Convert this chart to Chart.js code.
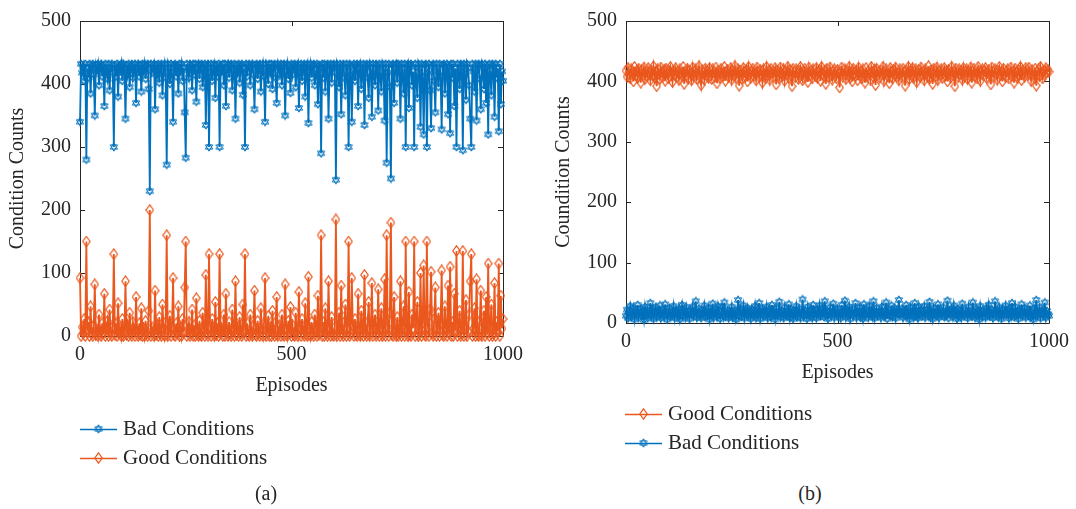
<!DOCTYPE html>
<html>
<head>
<meta charset="utf-8">
<script src="https://cdn.jsdelivr.net/npm/chart.js@4.4.1/dist/chart.umd.min.js"></script>
<style>
  body { margin: 0; width: 1076px; height: 509px; background: #fff; position: relative; overflow: hidden;
         font-family: "Liberation Serif", "DejaVu Serif", serif; color: #262626; }
  .panel { position: absolute; top: 0; }
  .legend { position: absolute; font-size: 21px; line-height: 29px; }
  .legend div { display: flex; align-items: center; height: 29px; white-space: nowrap; }
  .legend canvas { margin-right: 6px; }
  .caption { position: absolute; width: 100px; text-align: center; font-size: 20px; line-height: 24px; }
</style>
</head>
<body>
<div class="panel" style="left:0px;"><canvas id="chartA" width="530" height="400"></canvas></div>
<div class="panel" style="left:546px;"><canvas id="chartB" width="530" height="390"></canvas></div>

<div class="legend" id="legendA" style="left:80px; top:414px;"></div>
<div class="legend" id="legendB" style="left:625px; top:399px;"></div>
<div class="caption" style="left:216px; top:481px;">(a)</div>
<div class="caption" style="left:760px; top:481px;">(b)</div>

<script>
// Episoden 0..1000 in Schritten von 2.5
const episodes = Array.from({ length: 401 }, (_, i) => i * 2.5);

const xTicks = [0, 500, 1000];
const yTicks = [0, 100, 200, 300, 400, 500];

// (a) Bad Conditions
const badA = [
  340, 432, 418, 428, 405, 432, 280, 425, 410, 432, 385, 428, 432, 415, 350, 430, 422, 432, 398, 426,
  432, 412, 428, 365, 432, 420, 408, 432, 390, 425, 432, 418, 300, 430, 412, 432, 380, 428, 420, 432,
  405, 432, 425, 345, 430, 415, 432, 395, 428, 432, 410, 422, 432, 370, 426, 432, 412, 430, 388, 432,
  420, 432, 408, 428, 432, 392, 230, 432, 418, 425, 432, 360, 430, 415, 432, 402, 428, 432, 382, 420,
  432, 410, 272, 432, 425, 400, 432, 418, 340, 430, 432, 412, 428, 385, 432, 420, 432, 405, 426, 355,
  283, 432, 422, 410, 432, 428, 390, 432, 415, 432, 372, 425, 432, 408, 430, 432, 395, 420, 432, 335,
  428, 432, 300, 418, 432, 405, 425, 432, 378, 430, 412, 432, 300, 428, 420, 432, 398, 432, 365, 425,
  432, 410, 428, 432, 390, 420, 432, 345, 430, 418, 432, 402, 428, 432, 383, 425, 300, 432, 412, 430,
  432, 398, 425, 432, 415, 360, 430, 432, 408, 428, 432, 388, 420, 432, 412, 340, 432, 426, 400, 432,
  418, 432, 392, 428, 432, 410, 370, 432, 425, 415, 432, 398, 430, 432, 350, 420, 432, 408, 428, 386,
  432, 415, 430, 432, 395, 425, 432, 362, 418, 432, 405, 428, 432, 380, 425, 432, 338, 420, 432, 410,
  428, 432, 398, 415, 432, 368, 430, 425, 290, 432, 410, 432, 388, 428, 432, 345, 420, 432, 402, 430,
  432, 418, 248, 432, 425, 395, 432, 352, 428, 432, 410, 382, 432, 420, 300, 432, 428, 340, 415, 432,
  405, 430, 432, 365, 425, 432, 392, 418, 432, 335, 428, 432, 410, 378, 432, 425, 348, 432, 415, 398,
  432, 428, 358, 432, 412, 388, 432, 425, 342, 432, 275, 418, 432, 395, 250, 430, 432, 370, 425, 432,
  402, 432, 428, 345, 432, 415, 385, 432, 300, 425, 432, 362, 430, 432, 398, 420, 300, 432, 410, 378,
  432, 425, 332, 432, 412, 320, 430, 432, 300, 418, 432, 390, 330, 428, 432, 405, 355, 432, 420, 395,
  432, 412, 328, 430, 432, 385, 420, 432, 352, 428, 322, 432, 410, 432, 365, 425, 300, 432, 418, 392,
  432, 428, 295, 432, 415, 375, 432, 425, 398, 345, 300, 432, 420, 388, 432, 342, 430, 432, 408, 360,
  432, 425, 392, 432, 370, 428, 320, 432, 415, 382, 432, 428, 348, 432, 410, 425, 325, 432, 368, 420,
  405
];

// (a) Good Conditions
const goodA = [
  92, 0, 14, 4, 27, 0, 150, 7, 22, 0, 47, 4, 0, 17, 82, 2, 10, 0, 34, 6,
  0, 20, 4, 67, 0, 12, 24, 0, 42, 7, 0, 14, 130, 2, 20, 0, 52, 4, 12, 0,
  27, 0, 7, 87, 2, 17, 0, 37, 4, 0, 22, 10, 0, 62, 6, 0, 20, 2, 44, 0,
  12, 0, 24, 4, 0, 40, 200, 0, 14, 7, 0, 72, 2, 17, 0, 30, 4, 0, 50, 12,
  0, 22, 160, 0, 7, 32, 0, 14, 92, 2, 0, 20, 4, 47, 0, 12, 0, 27, 6, 77,
  150, 0, 10, 22, 0, 4, 42, 0, 17, 0, 60, 7, 0, 24, 2, 0, 37, 12, 0, 97,
  4, 0, 130, 14, 0, 27, 7, 0, 54, 2, 20, 0, 130, 4, 12, 0, 34, 0, 67, 7,
  0, 22, 4, 0, 42, 12, 0, 87, 2, 14, 0, 30, 4, 0, 50, 7, 130, 0, 20, 2,
  0, 34, 7, 0, 17, 72, 2, 0, 24, 4, 0, 44, 12, 0, 20, 92, 0, 6, 32, 0,
  14, 0, 40, 4, 0, 22, 62, 0, 7, 17, 0, 34, 2, 0, 82, 12, 0, 24, 4, 46,
  0, 17, 2, 0, 37, 7, 0, 70, 14, 0, 27, 4, 0, 52, 7, 0, 94, 12, 0, 22,
  4, 0, 34, 17, 0, 64, 2, 7, 160, 0, 22, 0, 44, 4, 0, 87, 12, 0, 30, 2,
  0, 14, 185, 0, 7, 37, 0, 80, 4, 0, 22, 50, 0, 12, 150, 0, 4, 92, 17, 0,
  27, 2, 0, 67, 7, 0, 40, 14, 0, 97, 4, 0, 22, 54, 0, 7, 84, 0, 17, 34,
  0, 4, 74, 0, 20, 44, 0, 7, 90, 0, 160, 14, 0, 37, 180, 2, 0, 62, 7, 0,
  30, 0, 4, 87, 0, 17, 47, 0, 150, 7, 0, 70, 2, 0, 34, 12, 150, 0, 22, 54,
  0, 7, 100, 0, 20, 112, 2, 0, 150, 14, 0, 42, 102, 4, 0, 27, 77, 0, 12, 37,
  0, 20, 104, 2, 0, 47, 12, 0, 80, 4, 110, 0, 22, 0, 67, 7, 135, 0, 14, 40,
  0, 4, 135, 0, 17, 57, 0, 7, 34, 87, 130, 0, 12, 44, 0, 90, 2, 0, 24, 72,
  0, 7, 40, 0, 62, 4, 115, 0, 17, 50, 0, 4, 84, 0, 22, 7, 115, 0, 64, 12,
  27
];

// (b) Good Conditions
const goodB = [
  418, 408, 422, 412, 405, 420, 415, 400, 424, 410, 417, 406, 421, 413, 398, 419, 411, 423, 404, 416,
  409, 422, 414, 402, 418, 410, 425, 406, 416, 392, 420, 412, 404, 423, 415, 408, 419, 401, 421, 413,
  405, 417, 424, 410, 399, 418, 412, 422, 407, 415, 403, 420, 414, 409, 424, 396, 416, 411, 421, 405,
  418, 413, 402, 423, 409, 416, 420, 404, 412, 425, 407, 394, 419, 414, 403, 421, 410, 417, 406, 422,
  411, 404, 420, 415, 408, 423, 397, 418, 412, 405, 421, 414, 409, 424, 401, 416, 419, 407, 413, 422,
  403, 417, 410, 425, 406, 414, 420, 393, 418, 411, 404, 422, 415, 408, 419, 400, 424, 412, 406, 417,
  421, 409, 414, 402, 423, 416, 407, 419, 412, 398, 420, 413, 405, 424, 410, 417, 403, 421, 414, 408,
  416, 422, 395, 418, 411, 405, 423, 414, 409, 420, 401, 417, 412, 424, 406, 419, 410, 392, 421, 415,
  407, 420, 413, 404, 418, 424, 410, 402, 416, 421, 408, 414, 399, 423, 411, 417, 405, 420, 413, 409,
  422, 406, 415, 419, 401, 424, 412, 408, 418, 396, 421, 414, 407, 423, 410, 403, 417, 420, 411, 405,
  419, 413, 390, 416, 423, 408, 412, 420, 404, 417, 411, 424, 406, 415, 400, 421, 414, 409, 418, 402,
  423, 410, 416, 405, 420, 413, 398, 422, 408, 417, 412, 403, 424, 415, 407, 419, 394, 421, 411, 416,
  406, 418, 413, 424, 401, 415, 420, 409, 412, 397, 422, 416, 405, 419, 411, 423, 408, 414, 402, 420,
  413, 407, 421, 416, 393, 418, 412, 424, 404, 417, 410, 422, 406, 415, 420, 399, 413, 419, 408, 423,
  411, 416, 402, 420, 414, 408, 425, 405, 418, 412, 396, 421, 415, 409, 423, 403, 417, 411, 420, 406,
  414, 422, 409, 417, 400, 419, 413, 406, 424, 410, 416, 392, 421, 414, 407, 420, 412, 418, 403, 422,
  408, 415, 420, 404, 417, 411, 423, 398, 416, 421, 409, 413, 405, 424, 418, 401, 415, 420, 410, 417,
  422, 406, 414, 419, 411, 395, 423, 416, 408, 420, 413, 403, 418, 424, 410, 415, 400, 421, 412, 407,
  417, 420, 405, 413, 423, 409, 416, 398, 421, 414, 406, 419, 411, 424, 402, 418, 413, 408, 422, 415,
  410, 423, 414, 401, 419, 412, 406, 421, 393, 416, 420, 409, 424, 413, 405, 418, 411, 422, 415, 419,
  416
];

// (b) Bad Conditions
const badB = [
  12, 22, 8, 18, 28, 10, 15, 25, 6, 20, 14, 30, 9, 17, 24, 11, 19, 5, 27, 13,
  21, 9, 16, 33, 12, 23, 7, 18, 26, 10, 20, 14, 29, 8, 17, 22, 11, 31, 15, 6,
  19, 25, 10, 16, 13, 28, 8, 21, 17, 11, 24, 6, 18, 30, 12, 20, 9, 26, 14, 16,
  7, 22, 15, 27, 11, 19, 36, 9, 17, 24, 13, 8, 21, 16, 29, 10, 18, 12, 25, 6,
  20, 14, 32, 9, 17, 23, 11, 28, 15, 7, 19, 26, 12, 34, 10, 16, 22, 8, 18, 13,
  27, 9, 15, 21, 6, 18, 38, 12, 24, 10, 17, 29, 8, 20, 14, 25, 11, 19, 7, 23,
  16, 12, 28, 9, 21, 15, 33, 7, 18, 24, 11, 20, 13, 27, 8, 17, 22, 10, 30, 14,
  19, 6, 25, 12, 17, 35, 10, 21, 15, 8, 26, 13, 19, 11, 31, 9, 23, 16, 7, 20,
  13, 28, 10, 18, 24, 8, 16, 39, 12, 21, 14, 7, 27, 17, 11, 22, 9, 30, 15, 19,
  8, 23, 14, 29, 11, 17, 25, 10, 36, 13, 20, 7, 18, 26, 12, 16, 32, 9, 21, 15,
  24, 11, 17, 8, 30, 14, 19, 37, 10, 22, 13, 27, 7, 18, 23, 12, 16, 33, 9, 20,
  15, 26, 10, 19, 7, 31, 13, 21, 17, 9, 28, 14, 22, 11, 36, 8, 18, 25, 12, 16,
  20, 9, 27, 14, 18, 11, 34, 7, 23, 16, 12, 29, 10, 19, 25, 8, 21, 15, 38, 13,
  17, 24, 9, 20, 13, 30, 11, 18, 6, 26, 15, 21, 10, 33, 12, 19, 8, 27, 14, 22,
  11, 18, 28, 9, 16, 23, 13, 35, 10, 20, 7, 25, 15, 19, 12, 31, 9, 22, 17, 14,
  26, 10, 19, 13, 37, 8, 21, 16, 24, 11, 29, 14, 18, 7, 23, 12, 20, 9, 32, 15,
  12, 22, 17, 8, 27, 14, 19, 11, 34, 16, 9, 24, 13, 20, 6, 28, 15, 10, 21, 18,
  9, 25, 14, 30, 11, 17, 22, 8, 19, 36, 13, 21, 10, 26, 15, 7, 23, 12, 18, 29,
  14, 20, 8, 24, 12, 33, 16, 10, 27, 13, 19, 7, 22, 15, 31, 11, 18, 25, 9, 16,
  21, 12, 29, 10, 17, 6, 24, 14, 38, 11, 19, 26, 8, 16, 22, 13, 34, 9, 20, 15,
  12
];

const blue = '#0072BD';
const orange = '#EA581E';
const textColor = '#262626';
const fontSpec = { family: '"Liberation Serif", "DejaVu Serif", serif', size: 20 };

// --- Marker (Hexagramm und Raute wie in MATLAB) ---

function makeHexagram(color) {
    const c = document.createElement('canvas');
    c.width = 10; c.height = 10;
    const g = c.getContext('2d');
    g.strokeStyle = color;
    g.lineWidth = 1;
    const r = 4.2, cx = 5, cy = 5;
    [ -Math.PI / 2, Math.PI / 2 ].forEach(start => {
        g.beginPath();
        for (let k = 0; k < 3; k++) {
            const a = start + k * 2 * Math.PI / 3;
            const px = cx + r * Math.cos(a), py = cy + r * Math.sin(a);
            k === 0 ? g.moveTo(px, py) : g.lineTo(px, py);
        }
        g.closePath();
        g.stroke();
    });
    return c;
}

function makeDiamond(color) {
    const c = document.createElement('canvas');
    c.width = 9; c.height = 12;
    const g = c.getContext('2d');
    g.strokeStyle = color;
    g.lineWidth = 1.2;
    g.beginPath();
    g.moveTo(4.5, 0.8);
    g.lineTo(8.2, 6);
    g.lineTo(4.5, 11.2);
    g.lineTo(0.8, 6);
    g.closePath();
    g.stroke();
    return c;
}

const hexBlue = makeHexagram(blue);
const diaOrange = makeDiamond(orange);

function toPoints(values) {
    return values.map((v, i) => ({ x: episodes[i], y: v }));
}

// Rahmen mit Innen-Ticks auf allen vier Seiten
const frameTicks = {
    id: 'frameTicks',
    beforeDatasetsDraw(chart) {
        const { ctx, chartArea: a, scales: { x, y } } = chart;
        const t = 5;
        ctx.save();
        ctx.strokeStyle = textColor;
        ctx.lineWidth = 1;
        ctx.beginPath();
        ctx.rect(Math.round(a.left) + 0.5, Math.round(a.top) + 0.5,
                 Math.round(a.right - a.left), Math.round(a.bottom - a.top));
        x.ticks.forEach(tk => {
            const px = Math.round(x.getPixelForValue(tk.value)) + 0.5;
            ctx.moveTo(px, a.bottom); ctx.lineTo(px, a.bottom - t);
            ctx.moveTo(px, a.top); ctx.lineTo(px, a.top + t);
        });
        y.ticks.forEach(tk => {
            const py = Math.round(y.getPixelForValue(tk.value)) + 0.5;
            ctx.moveTo(a.left, py); ctx.lineTo(a.left + t, py);
            ctx.moveTo(a.right, py); ctx.lineTo(a.right - t, py);
        });
        ctx.stroke();
        ctx.restore();
    }
};

function buildChart(canvasId, datasets, yTitle, xHeight, titlePad) {
    return new Chart(document.getElementById(canvasId), {
        type: 'line',
        data: { datasets: datasets },
        options: {
            responsive: false,
            animation: false,
            events: [],
            layout: { padding: { left: 0, top: 14, right: 24, bottom: 0 } },
            plugins: { legend: { display: false }, tooltip: { enabled: false } },
            scales: {
                x: {
                    type: 'linear',
                    min: 0, max: 1000,
                    afterBuildTicks: s => { s.ticks = xTicks.map(v => ({ value: v })); },
                    afterFit: s => { s.height = xHeight; },
                    grid: { display: false, drawTicks: false },
                    border: { display: false },
                    ticks: { color: textColor, font: fontSpec, padding: 7, maxRotation: 0,
                             callback: v => String(v) },
                    title: { display: true, text: 'Episodes', color: textColor, font: fontSpec,
                             padding: { top: 0, bottom: titlePad } }
                },
                y: {
                    min: 0, max: 500,
                    afterBuildTicks: s => { s.ticks = yTicks.map(v => ({ value: v })); },
                    afterFit: s => { s.width = 80; },
                    grid: { display: false, drawTicks: false },
                    border: { display: false },
                    ticks: { color: textColor, font: fontSpec, padding: 9, callback: v => String(v) },
                    title: { display: true, text: yTitle, color: textColor, font: fontSpec,
                             padding: { top: 6, bottom: 0 } }
                }
            }
        },
        plugins: [frameTicks]
    });
}

function series(label, values, color, marker) {
    return {
        label: label,
        data: toPoints(values),
        borderColor: color,
        backgroundColor: color,
        borderWidth: 1.8,
        pointStyle: marker,
        pointRadius: 4,
        tension: 0,
        clip: 12
    };
}

buildChart('chartA', [
    series('Bad Conditions', badA, blue, hexBlue),
    series('Good Conditions', goodA, orange, diaOrange)
], 'Condition Counts', 64, 2);

buildChart('chartB', [
    series('Good Conditions', goodB, orange, diaOrange),
    series('Bad Conditions', badB, blue, hexBlue)
], 'Coundition Counts', 67, 5);

// --- Legenden (HTML) ---

function legendIcon(color, marker) {
    const c = document.createElement('canvas');
    c.width = 37; c.height = 14;
    const g = c.getContext('2d');
    g.strokeStyle = color;
    g.lineWidth = 1.5;
    g.beginPath();
    g.moveTo(0, 7.5); g.lineTo(37, 7.5);
    g.stroke();
    g.drawImage(marker, 18.5 - marker.width / 2, 7 - marker.height / 2);
    return c;
}

function buildLegend(elId, entries) {
    const el = document.getElementById(elId);
    entries.forEach(e => {
        const row = document.createElement('div');
        row.appendChild(legendIcon(e.color, e.marker));
        const span = document.createElement('span');
        span.textContent = e.label;
        row.appendChild(span);
        el.appendChild(row);
    });
}

buildLegend('legendA', [
    { label: 'Bad Conditions', color: blue, marker: hexBlue },
    { label: 'Good Conditions', color: orange, marker: diaOrange }
]);
buildLegend('legendB', [
    { label: 'Good Conditions', color: orange, marker: diaOrange },
    { label: 'Bad Conditions', color: blue, marker: hexBlue }
]);
</script>
</body>
</html>
